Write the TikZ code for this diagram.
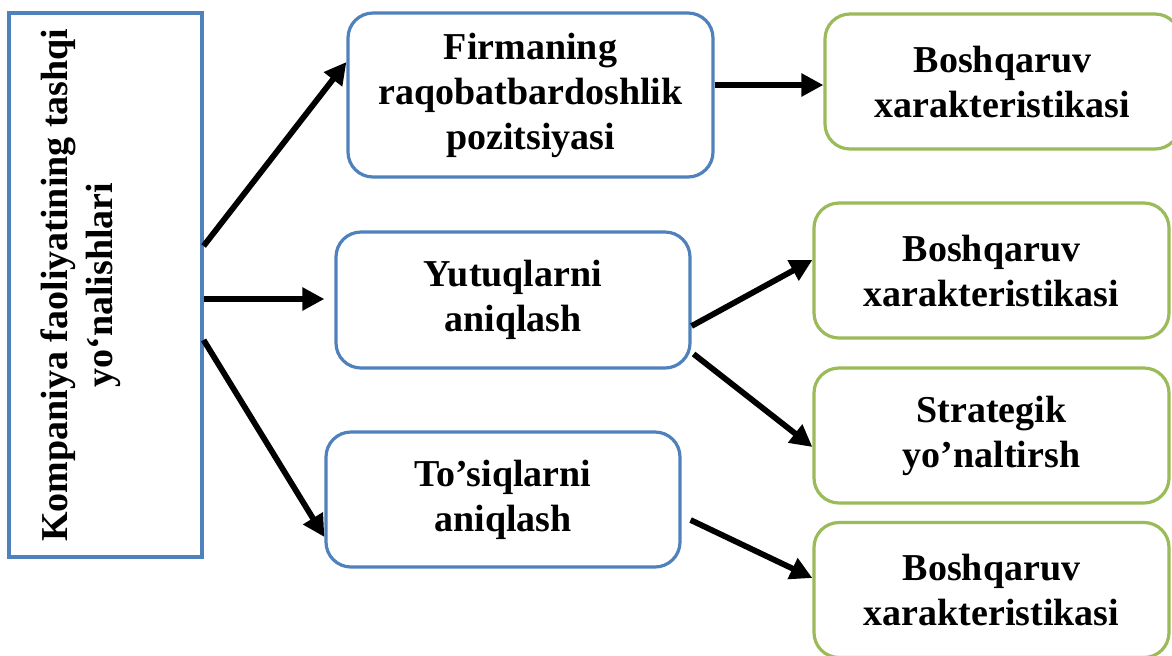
\documentclass[tikz,border=0pt]{standalone}
\usepackage{fontspec}
\setmainfont{Liberation Serif}
\usetikzlibrary{arrows.meta}
\definecolor{boxblue}{HTML}{4F81BD}
\definecolor{boxgreen}{HTML}{9BBB59}
\tikzset{
 bluebox/.style={draw=boxblue,line width=1.6pt,rounded corners=12.5pt,align=center,font=\fontsize{19}{22.5}\selectfont\bfseries},
 greenbox/.style={draw=boxgreen,line width=1.6pt,rounded corners=12.5pt,align=center,font=\fontsize{19}{22.5}\selectfont\bfseries,minimum width=177.5pt,minimum height=67.5pt},
 arr/.style={line width=2.9pt,-{Triangle[length=11pt,width=11pt]}}
}
\begin{document}
\begin{tikzpicture}[x=0.5pt,y=-0.5pt]
 \clip (0,0) rectangle (1172,655);
 \fill[white] (0,0) rectangle (1172,655);
 % left column
 \node[draw=boxblue,line width=1.6pt,minimum width=96.5pt,minimum height=272pt] (left) at (105.5,285) {};
 \node[rotate=90,align=center,font=\fontsize{19}{22.5}\selectfont\bfseries] (lefttxt) at (81,285) {Kompaniya faoliyatining tashqi\\yo‘nalishlari};
 % middle column
 \node[bluebox,minimum width=182.5pt,minimum height=82pt] (firm) at (530.5,95) {Firmaning\\raqobatbardoshlik\\pozitsiyasi};
 \node[bluebox,minimum width=177pt,minimum height=68pt] (yutuq) at (513,300) {Yutuqlarni\\aniqlash};
 \node[bluebox,minimum width=177pt,minimum height=67.5pt] (tosiq) at (503,499.5) {To’siqlarni\\aniqlash};
 % right column
 \node[greenbox] (boshA) at (1002.5,81.5) {Boshqaruv\\xarakteristikasi};
 \node[greenbox] (boshB) at (991.5,270.5) {Boshqaruv\\xarakteristikasi};
 \node[greenbox] (strat) at (991.5,435.5) {Strategik\\yo’naltirsh};
 \node[greenbox] (boshC) at (991.5,590) {Boshqaruv\\xarakteristikasi};
 % arrows
 \draw[arr] ([yshift=19.5pt]left.east) -- ([yshift=16.5pt]firm.west);
 \draw[arr,shorten >=5pt] ([yshift=-7pt]left.east) -- ([yshift=-7pt]left.east -| yutuq.west);
 \draw[arr] ([yshift=-27.5pt]left.east) -- ([yshift=-18.75pt]tosiq.west);
 \draw[arr] ([yshift=5pt]firm.east) -- ([yshift=5pt]firm.east -| boshA.west);
 \draw[arr] ([yshift=-13pt]yutuq.east) -- ([yshift=5.25pt]boshB.west);
 \draw[arr] ([xshift=1pt,yshift=-27pt]yutuq.east) -- ([yshift=-5.75pt]strat.west);
 \draw[arr] ([xshift=4.5pt,yshift=-10.25pt]tosiq.east) -- ([yshift=6pt]boshC.west);
\end{tikzpicture}
\end{document}
